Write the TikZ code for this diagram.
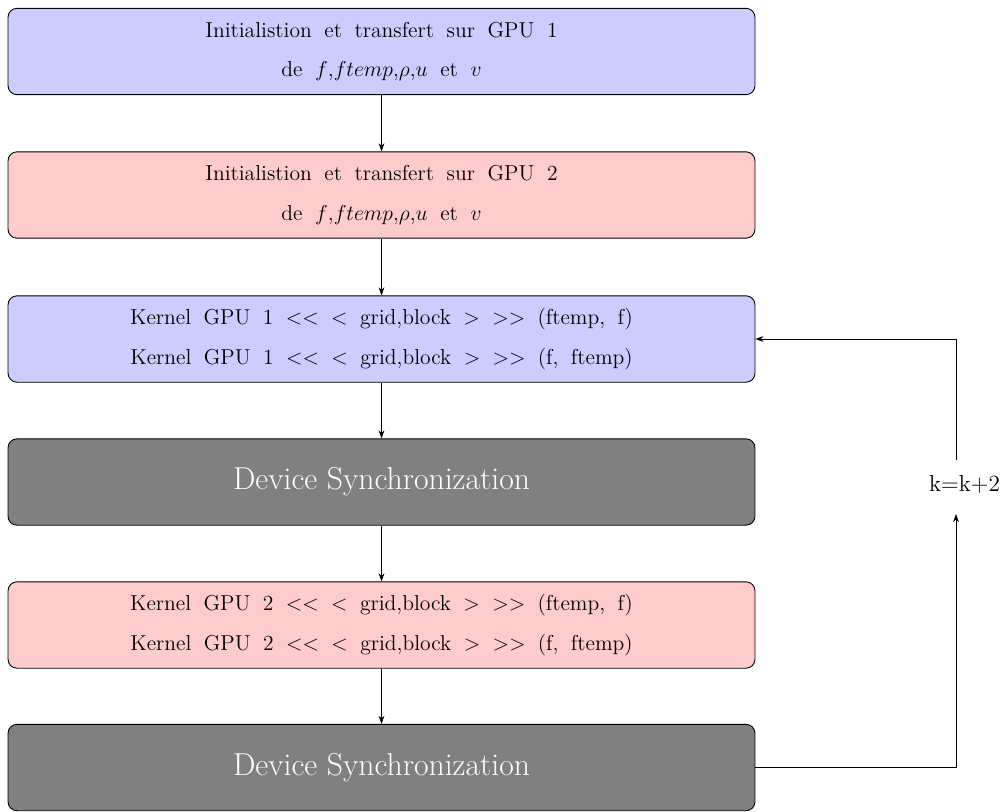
\documentclass[tikz,border=0pt]{standalone}
\usetikzlibrary{arrows.meta}
\newcommand\myinitsize{\fontsize{12}{22}\selectfont\spaceskip=7pt\relax}
\newcommand\mykernsize{\fontsize{12}{22}\selectfont\spaceskip=6.9pt\relax}
\newcommand\mysyncsize{\fontsize{17.6}{20}\selectfont}
\newcommand\myksize{\fontsize{12.9}{15}\selectfont}
\begin{document}
\begin{tikzpicture}[x=0.5556pt,y=-0.5556pt,
  box/.style={draw=black, rounded corners=5pt, minimum width=415pt, minimum height=48pt, align=center, inner sep=0pt, line width=0.5pt},
  initfont/.style={font=\myinitsize},
  kernfont/.style={font=\mykernsize},
  bluebox/.style={box, fill=blue!20},
  redbox/.style={box, fill=red!20},
  graybox/.style={box, fill=black!50, text=white, font=\mysyncsize},
  arr/.style={-{Stealth[length=4.5pt,width=3.2pt]}, line width=0.4pt}]
\useasboundingbox (0,0) rectangle (1004,811);
\node[bluebox, initfont] (b1) at (381.5,51.5) {Initialistion et transfert sur GPU 1\\de $f$,$ftemp$,$\rho$,$u$ et $v$};
\node[redbox, initfont] (b2) at (381.5,195) {Initialistion et transfert sur GPU 2\\de $f$,$ftemp$,$\rho$,$u$ et $v$};
\node[bluebox, kernfont] (b3) at (381.5,339) {Kernel GPU 1 $<<$ $<$ grid,block $>$ $>>$ (ftemp, f)\\Kernel GPU 1 $<<$ $<$ grid,block $>$ $>>$ (f, ftemp)};
\node[graybox] (b4) at (381.5,482) {Device Synchronization};
\node[redbox, kernfont] (b5) at (381.5,625) {Kernel GPU 2 $<<$ $<$ grid,block $>$ $>>$ (ftemp, f)\\Kernel GPU 2 $<<$ $<$ grid,block $>$ $>>$ (f, ftemp)};
\node[graybox] (b6) at (381.5,767.5) {Device Synchronization};
\node[font=\myksize, inner sep=0pt] (k) at (964.5,484) {k=k+2};
\coordinate (kb) at (956,514);
\coordinate (kt) at (956,460);
\draw[arr] (b1) -- (b2);
\draw[arr] (b2) -- (b3);
\draw[arr] (b3) -- (b4);
\draw[arr] (b4) -- (b5);
\draw[arr] (b5) -- (b6);
\draw[arr] (b6.east) -| (kb);
\draw[arr] (kt) |- (b3.east);
\end{tikzpicture}
\end{document}
